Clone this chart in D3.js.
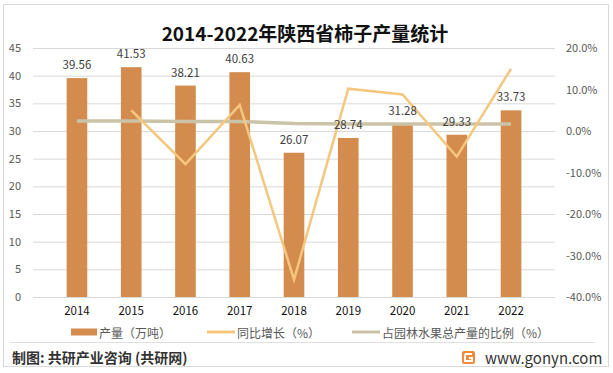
<!DOCTYPE html>
<html>
<head>
<meta charset="utf-8">
<script src="https://cdn.jsdelivr.net/npm/d3@7"></script>
<style>
  body { margin: 0; background: #fff; }
  text { font-family: "Noto Sans CJK SC", "Noto Sans", sans-serif; }
</style>
</head>
<body>
<div id="chart"></div>
<script>
// values
const years = ["2014", "2015", "2016", "2017", "2018", "2019", "2020", "2021", "2022"];
const output = [39.56, 41.53, 38.21, 40.63, 26.07, 28.74, 31.28, 29.33, 33.73];
const growth = [null, 5.0, -8.0, 6.3, -35.8, 10.2, 8.8, -6.2, 15.0];
const share = [2.4, 2.4, 2.3, 2.3, 1.8, 1.7, 1.7, 1.7, 1.7];
const leftTicks = [0, 5, 10, 15, 20, 25, 30, 35, 40, 45];
const rightTicks = [-40, -30, -20, -10, 0, 10, 20];
const legendNames = ["产量（万吨）", "同比增长（%）", "占园林水果总产量的比例（%）"];

let width = 613,
    height = 373,
    margin = ({ top: 48, right: 58, bottom: 76, left: 33 });

const svg = d3.select("#chart")
  .append("svg")
  .attr("width", width)
  .attr("height", height);

// outer frame
svg.append("rect")
  .attr("x", 3.5).attr("y", 4.5)
  .attr("width", 605).attr("height", 362)
  .attr("fill", "#fff")
  .attr("stroke", "#d9d9d9");

svg.append("text")
  .text("2014-2022年陕西省柿子产量统计")
  .attr("x", 305)
  .attr("y", 41)
  .attr("text-anchor", "middle")
  .attr("font-size", 19)
  .attr("font-weight", "bold")
  .attr("fill", "#111");

let x = d3.scaleBand()
  .domain(years)
  .range([margin.left, width - margin.right])
  .padding(0.62);

let y = d3.scaleLinear()
  .domain([0, 45])
  .range([height - margin.bottom, margin.top]);

let y2 = d3.scaleLinear()
  .domain([-40, 20])
  .range([height - margin.bottom, margin.top]);

// gridlines + left axis
let yAxis = svg.append("g")
  .attr("transform", `translate(${margin.left},0)`)
  .call(d3.axisLeft(y).tickValues(leftTicks).tickSize(-(width - margin.left - margin.right)).tickPadding(12));
yAxis.select(".domain").remove();
yAxis.selectAll("line").attr("stroke", "#d9d9d9");
yAxis.selectAll("text").attr("font-size", 11).attr("fill", "#595959")
  .attr("font-family", "Liberation Sans, sans-serif");

// right axis
let y2Axis = svg.append("g")
  .attr("transform", `translate(${width - margin.right},0)`)
  .call(d3.axisRight(y2).tickValues(rightTicks).tickSize(0).tickPadding(11)
    .tickFormat(d => d.toFixed(1) + "%"));
y2Axis.select(".domain").remove();
y2Axis.selectAll("text").attr("font-size", 11).attr("fill", "#595959")
  .attr("font-family", "Liberation Sans, sans-serif");

// bottom axis
let xAxis = svg.append("g")
  .attr("transform", `translate(0,${height - margin.bottom})`)
  .call(d3.axisBottom(x).tickSize(0).tickPadding(10));
xAxis.select(".domain").attr("stroke", "#d9d9d9");
xAxis.selectAll("text").attr("font-size", 11.5).attr("fill", "#111")
  .attr("font-family", "Liberation Sans, sans-serif");

// bars
svg.append("g")
  .selectAll("rect")
  .data(output)
  .join("rect")
  .attr("x", (d, i) => x(years[i]))
  .attr("y", d => y(d))
  .attr("width", x.bandwidth())
  .attr("height", d => y(0) - y(d))
  .attr("fill", "#d38b4e");

let cx = i => x(years[i]) + x.bandwidth() / 2;

let shareLine = d3.line()
  .x((d, i) => cx(i))
  .y(d => y2(d));

svg.append("path")
  .datum(share)
  .attr("fill", "none")
  .attr("stroke", "#cbc3a8")
  .attr("stroke-width", 3.5)
  .attr("d", shareLine);

let growthLine = d3.line()
  .defined(d => d !== null)
  .x((d, i) => cx(i))
  .y(d => y2(d));

svg.append("path")
  .datum(growth)
  .attr("fill", "none")
  .attr("stroke", "#f5c77e")
  .attr("stroke-width", 2.5)
  .attr("stroke-linejoin", "miter")
  .attr("d", growthLine);

// value labels on top of everything
svg.append("g")
  .selectAll("text")
  .data(output)
  .join("text")
  .text(d => d.toFixed(2))
  .attr("x", (d, i) => cx(i))
  .attr("y", d => y(d) - 9)
  .attr("text-anchor", "middle")
  .attr("font-size", 11.5)
  .attr("font-family", "Liberation Sans, sans-serif")
  .attr("fill", "#404040");

// legend
let legendX = [71, 207, 352];
let legend = svg.append("g");
legendNames.forEach((name, i) => {
  let g = legend.append("g").attr("transform", `translate(${legendX[i]},332)`);
  if (i === 0) {
    g.append("rect").attr("x", 0).attr("y", -3.5).attr("width", 26).attr("height", 7).attr("fill", "#d38b4e");
  } else {
    g.append("line").attr("x1", 0).attr("x2", 28).attr("y1", 0).attr("y2", 0)
      .attr("stroke", i === 1 ? "#f5c77e" : "#cbc3a8").attr("stroke-width", 3);
  }
  g.append("text")
    .text(name)
    .attr("x", i === 0 ? 28 : 30)
    .attr("y", 0)
    .attr("dominant-baseline", "central")
    .attr("font-size", 12)
    .attr("fill", "#595959");
});

// footer
svg.append("line")
  .attr("x1", 10).attr("x2", 595)
  .attr("y1", 342.5).attr("y2", 342.5)
  .attr("stroke", "#e0e0e0");

svg.append("text")
  .text("制图: 共研产业咨询 (共研网)")
  .attr("x", 12)
  .attr("y", 357)
  .attr("dominant-baseline", "central")
  .attr("font-size", 14)
  .attr("font-weight", "bold")
  .attr("fill", "#333");

let logo = svg.append("g").attr("transform", "translate(462,351)");
logo.append("rect").attr("width", 13).attr("height", 13).attr("rx", 2).attr("fill", "#f08a3c");
logo.append("path").attr("d", "M3,3 H10 M3,3 V10 H10 V7 H7").attr("fill", "none")
  .attr("stroke", "#fff").attr("stroke-width", 2);

svg.append("text")
  .text("www.gonyn.com")
  .attr("x", 485)
  .attr("y", 357)
  .attr("dominant-baseline", "central")
  .attr("font-size", 15)
  .attr("font-family", "Liberation Sans, sans-serif")
  .attr("fill", "#333");
</script>
</body>
</html>
